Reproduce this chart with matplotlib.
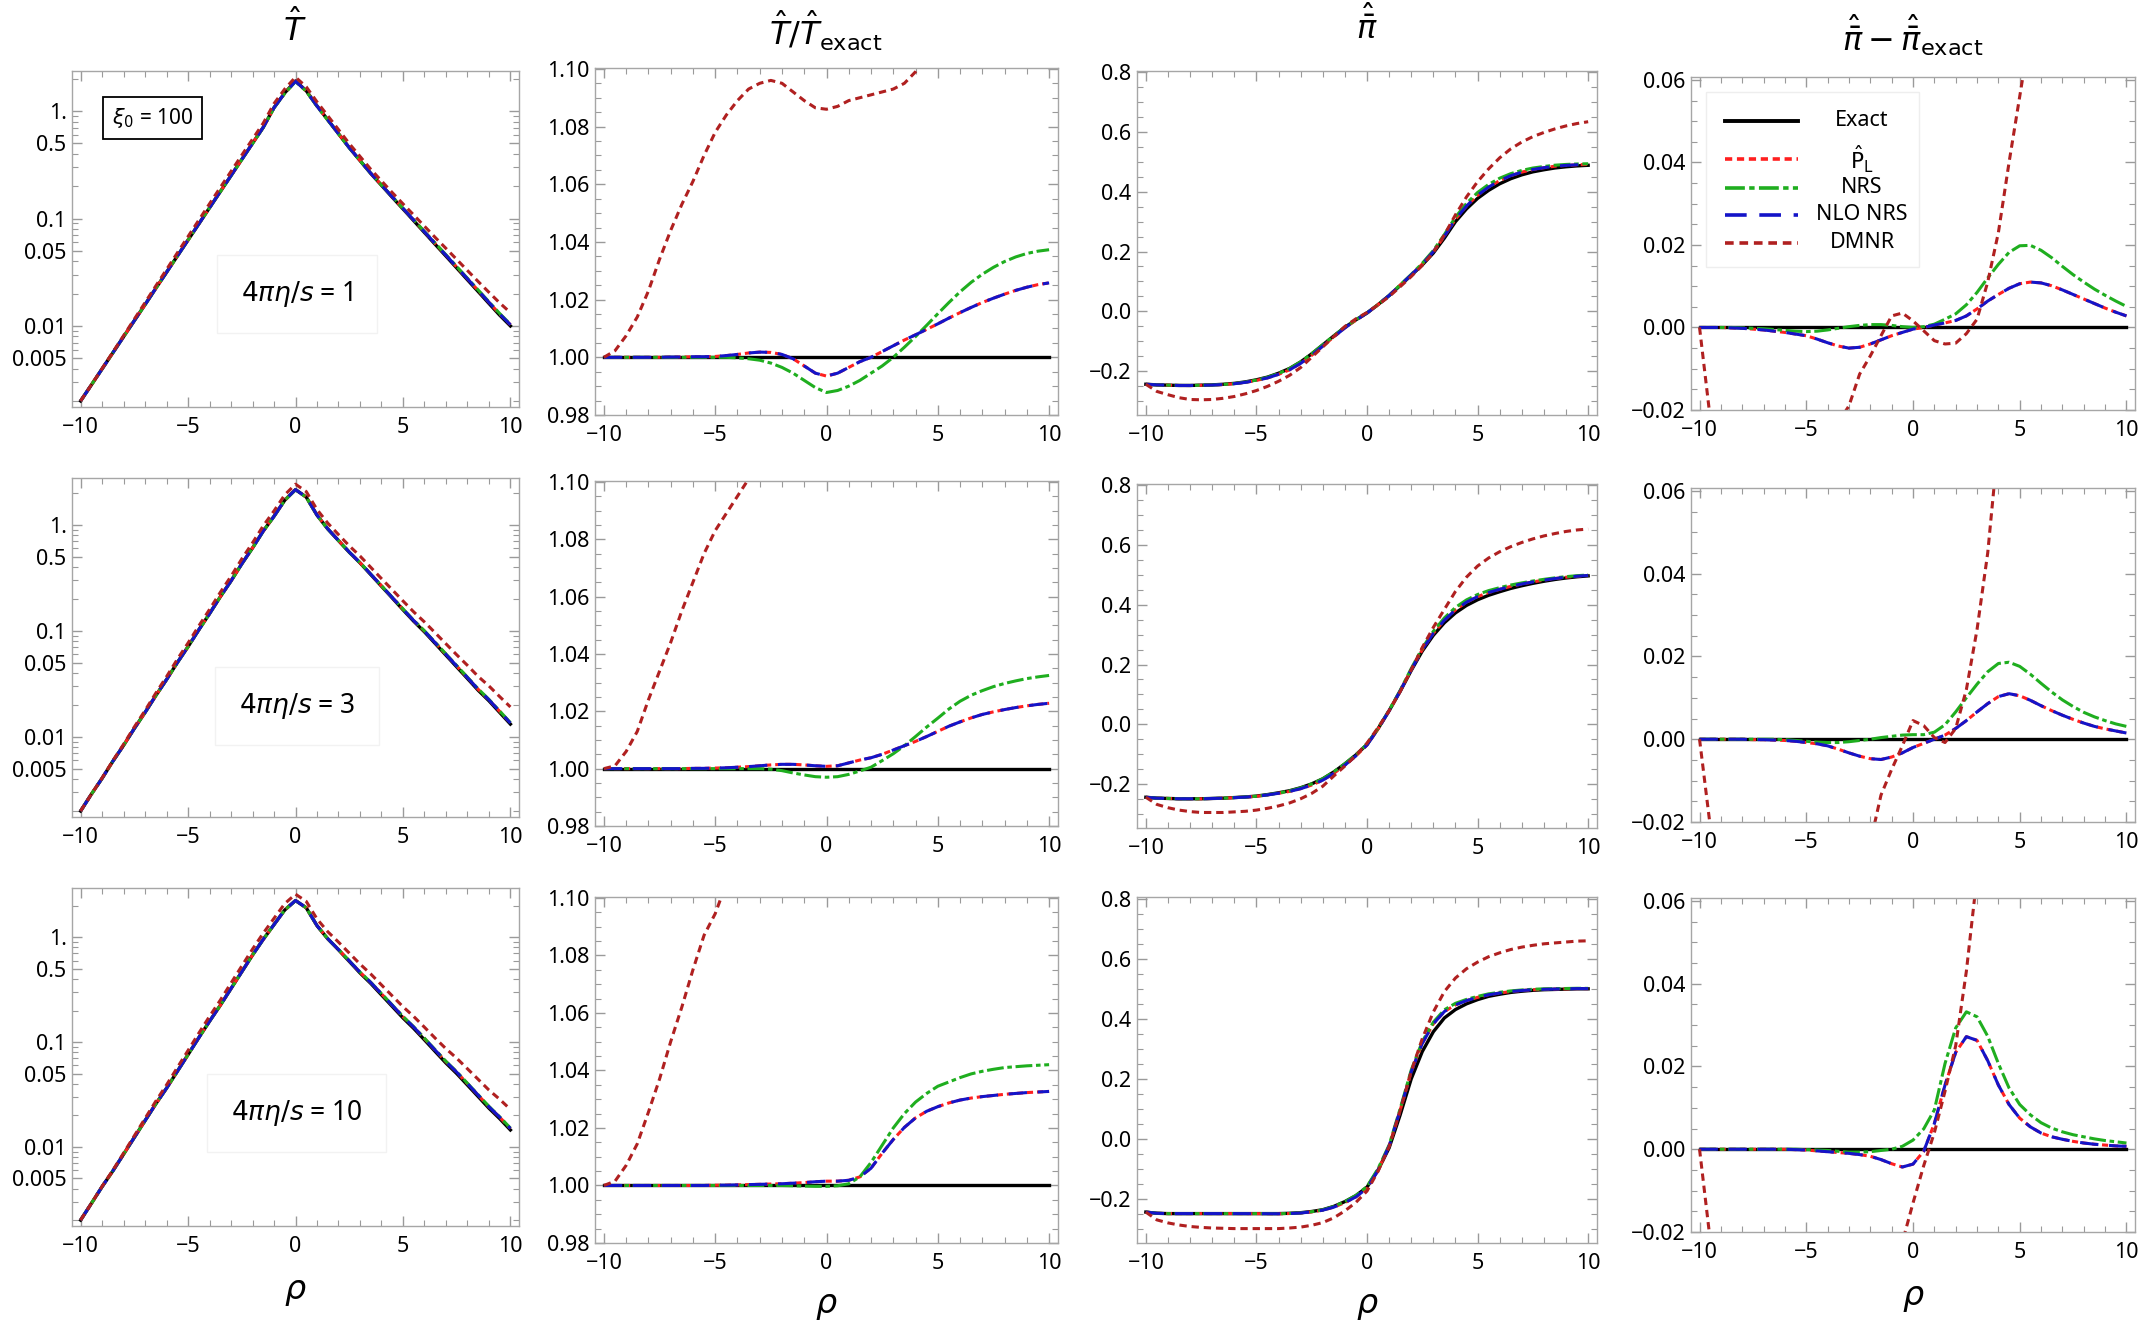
#!/usr/bin/env python3
# -*- coding: utf-8 -*-
import numpy as np
import matplotlib
matplotlib.use("Agg")
import matplotlib.pyplot as plt
from matplotlib.ticker import (FixedLocator, FixedFormatter, MultipleLocator,
                               FuncFormatter, LogLocator, NullFormatter)
from matplotlib.patches import Rectangle

plt.rcParams['font.family'] = ['Noto Sans', 'DejaVu Sans']
plt.rcParams['mathtext.fontset'] = 'dejavusans'

# rho grid, step 0.5 from -10 to 10 (41 points)
rho = np.arange(-10, 10.25, 0.5)

# ---- T_hat exact, one list per 4 pi eta/s = 1, 3, 10
T_exact_1 = [0.00200, 0.00282, 0.00398, 0.00562, 0.00794, 0.0112, 0.0158, 0.0224, 0.0316, 0.0447,
             0.0631, 0.0891, 0.126, 0.178, 0.251, 0.355, 0.501, 0.708, 1.08, 1.48, 1.91,
             1.55, 1.12, 0.832, 0.617, 0.457, 0.347, 0.263, 0.204, 0.158, 0.123,
             0.0955, 0.0741, 0.0575, 0.0447, 0.0347, 0.0269, 0.0209, 0.0162, 0.0126, 0.0100]
T_exact_3 = [0.00200, 0.00288, 0.00407, 0.00589, 0.00832, 0.0120, 0.0170, 0.0245, 0.0347, 0.0501,
             0.0708, 0.102, 0.145, 0.209, 0.295, 0.427, 0.603, 0.871, 1.20, 1.70, 2.14,
             1.82, 1.23, 0.912, 0.708, 0.550, 0.437, 0.339, 0.263, 0.204, 0.158,
             0.123, 0.0977, 0.0759, 0.0589, 0.0457, 0.0355, 0.0275, 0.0219, 0.0170, 0.0132]
T_exact_10 = [0.00200, 0.00288, 0.00417, 0.00589, 0.00851, 0.0123, 0.0178, 0.0257, 0.0363, 0.0525,
              0.0759, 0.110, 0.158, 0.224, 0.324, 0.468, 0.676, 0.955, 1.32, 1.82, 2.24,
              1.91, 1.29, 0.966, 0.759, 0.589, 0.457, 0.363, 0.282, 0.219, 0.170,
              0.135, 0.105, 0.0813, 0.0631, 0.0501, 0.0389, 0.0302, 0.0234, 0.0186, 0.0145]

# ---- T_hat / T_hat exact  (P_L coincides with NLO NRS)
ratio_nlo_1 = [1.0, 1.0, 1.0, 1.0, 1.0, 1.0, 1.0001, 1.0001, 1.0002, 1.0002, 1.0003, 1.0006, 1.001,
               1.0015, 1.0018, 1.0017, 1.001, 0.9995, 0.997, 0.9945, 0.9935, 0.9945, 0.9965, 0.9985,
               1.0, 1.002, 1.004, 1.006, 1.0078, 1.0097, 1.0116, 1.0136, 1.0155, 1.0173, 1.019,
               1.0205, 1.0219, 1.0232, 1.0243, 1.0252, 1.0258]
ratio_nrs_1 = [1.0, 1.0, 1.0, 1.0, 1.0, 1.0, 1.0, 1.0, 1.0, 1.0, 1.0, 1.0, 0.9998, 0.9995, 0.999,
               0.998, 0.9965, 0.9945, 0.992, 0.9895, 0.9878, 0.9885, 0.990, 0.992, 0.9945, 0.997,
               1.0, 1.0035, 1.0072, 1.0111, 1.0151, 1.019, 1.0227, 1.026, 1.0288, 1.0312, 1.0332,
               1.0348, 1.036, 1.0368, 1.0373]
ratio_dmnr_1 = [1.0, 1.0023, 1.0075, 1.014, 1.023, 1.034, 1.044, 1.053, 1.061, 1.070, 1.078, 1.084,
                1.089, 1.093, 1.095, 1.096, 1.095, 1.092, 1.089, 1.0865, 1.086, 1.087, 1.089, 1.090,
                1.091, 1.092, 1.093, 1.095, 1.099, 1.105, 1.115, 1.13, 1.145, 1.16, 1.18, 1.20,
                1.22, 1.24, 1.27, 1.30, 1.33]

ratio_nlo_3 = [1.0, 1.0, 1.0, 1.0, 1.0, 1.0, 1.0, 1.0, 1.0001, 1.0001, 1.0002, 1.0003, 1.0005, 1.0007,
               1.001, 1.0013, 1.0015, 1.0015, 1.0013, 1.001, 1.0008, 1.001, 1.002, 1.003, 1.0038,
               1.005, 1.0065, 1.008, 1.0095, 1.0112, 1.013, 1.0148, 1.0163, 1.0177, 1.0189, 1.0198,
               1.0206, 1.0213, 1.0219, 1.0224, 1.0228]
ratio_nrs_3 = [1.0, 1.0, 1.0, 1.0, 1.0, 1.0, 1.0, 1.0, 1.0, 1.0, 1.0, 1.0, 1.0, 1.0, 1.0,
               0.9998, 0.9993, 0.9985, 0.9978, 0.9972, 0.997, 0.9972, 0.998, 0.9992, 1.0005, 1.0028,
               1.0052, 1.008, 1.0112, 1.0145, 1.0176, 1.0208, 1.0235, 1.0256, 1.0272, 1.0286,
               1.0297, 1.0306, 1.0314, 1.032, 1.0325]
ratio_dmnr_3 = [1.0, 1.001, 1.006, 1.013, 1.024, 1.034, 1.044, 1.055, 1.065, 1.075, 1.083, 1.089,
                1.095, 1.101, 1.107, 1.113, 1.118, 1.121, 1.123, 1.124, 1.125, 1.127, 1.13, 1.135,
                1.14, 1.15, 1.16, 1.17, 1.18, 1.195, 1.21, 1.225, 1.24, 1.26, 1.28, 1.30, 1.33,
                1.35, 1.38, 1.41, 1.45]

ratio_nlo_10 = [1.0, 1.0, 1.0, 1.0, 1.0, 1.0, 1.0, 1.0, 1.0, 1.0, 1.0001, 1.0001, 1.0002, 1.0003,
                1.0004, 1.0005, 1.0006, 1.0008, 1.001, 1.0013, 1.0015, 1.0015, 1.0018, 1.003, 1.006,
                1.0112, 1.016, 1.0202, 1.0235, 1.0258, 1.0274, 1.0287, 1.0297, 1.0304, 1.0309,
                1.0313, 1.0317, 1.032, 1.0323, 1.0325, 1.0327]
ratio_nrs_10 = [1.0, 1.0, 1.0, 1.0, 1.0, 1.0, 1.0, 1.0, 1.0, 1.0, 1.0, 1.0, 1.0, 1.0, 1.0, 1.0, 1.0,
                0.9999, 0.9998, 0.9997, 0.9997, 0.9999, 1.0006, 1.003, 1.008, 1.014, 1.020, 1.025,
                1.029, 1.032, 1.0345, 1.036, 1.0375, 1.0388, 1.0397, 1.0404, 1.041, 1.0413,
                1.0416, 1.0418, 1.042]
ratio_dmnr_10 = [1.0, 1.0015, 1.007, 1.0145, 1.0255, 1.037, 1.050, 1.062, 1.075, 1.087, 1.0945,
                 1.105, 1.113, 1.12, 1.128, 1.135, 1.14, 1.145, 1.148, 1.15, 1.15, 1.152, 1.16,
                 1.17, 1.185, 1.2, 1.215, 1.23, 1.245, 1.26, 1.28, 1.30, 1.32, 1.34, 1.37, 1.40,
                 1.43, 1.46, 1.49, 1.53, 1.57]

# ---- pi_bar_hat exact
pi_exact_1 = [-0.245, -0.247, -0.248, -0.249, -0.249, -0.248, -0.247, -0.245, -0.242, -0.237,
              -0.230, -0.221, -0.208, -0.192, -0.170, -0.143, -0.113, -0.083, -0.054, -0.029,
              -0.006, 0.022, 0.052, 0.086, 0.120, 0.155, 0.195, 0.245, 0.300, 0.343, 0.378,
              0.405, 0.427, 0.444, 0.457, 0.467, 0.474, 0.480, 0.484, 0.487, 0.489]
pi_exact_3 = [-0.245, -0.248, -0.249, -0.250, -0.250, -0.250, -0.249, -0.248, -0.246, -0.244,
              -0.241, -0.236, -0.230, -0.223, -0.213, -0.200, -0.183, -0.160, -0.133, -0.103,
              -0.068, -0.015, 0.045, 0.110, 0.180, 0.245, 0.298, 0.340, 0.373, 0.398, 0.417,
              0.432, 0.444, 0.455, 0.464, 0.472, 0.479, 0.485, 0.490, 0.494, 0.497]
pi_exact_10 = [-0.245, -0.249, -0.250, -0.250, -0.250, -0.250, -0.250, -0.250, -0.250, -0.250,
               -0.250, -0.250, -0.250, -0.249, -0.247, -0.243, -0.237, -0.226, -0.210, -0.190,
               -0.162, -0.105, -0.031, 0.079, 0.199, 0.290, 0.356, 0.402, 0.430, 0.449, 0.463,
               0.474, 0.481, 0.487, 0.491, 0.494, 0.496, 0.497, 0.498, 0.499, 0.499]

# ---- pi_bar_hat - pi_bar_hat exact
dpi_nlo_1 = [0.0, 0.0, 0.0, -0.0001, -0.0002, -0.0004, -0.0006, -0.0009, -0.0012, -0.0016, -0.002,
             -0.0028, -0.0037, -0.0045, -0.005, -0.0048, -0.004, -0.003, -0.002, -0.0012, -0.0004,
             0.0, 0.0006, 0.0011, 0.0017, 0.0028, 0.0045, 0.0064, 0.008, 0.0095, 0.0106, 0.011,
             0.0108, 0.0101, 0.0091, 0.008, 0.0069, 0.0058, 0.0047, 0.0037, 0.0028]
dpi_nrs_1 = [0.0, 0.0, 0.0, 0.0, -0.0001, -0.0002, -0.0003, -0.0005, -0.0007, -0.0009, -0.001,
             -0.0009, -0.0006, -0.0002, 0.0002, 0.0005, 0.0007, 0.0007, 0.0005, 0.0002, 0.0,
             0.0002, 0.0008, 0.002, 0.0033, 0.0055, 0.0085, 0.012, 0.0153, 0.0182, 0.0198, 0.0199,
             0.0187, 0.0169, 0.0148, 0.0128, 0.011, 0.0093, 0.0078, 0.0064, 0.0051]
dpi_dmnr_1 = [0.0, -0.022, -0.032, -0.041, -0.047, -0.049, -0.049, -0.047, -0.044, -0.040, -0.036,
              -0.031, -0.027, -0.023, -0.019, -0.0113, -0.0069, -0.002, 0.0028, 0.0035, 0.0016,
              -0.0008, -0.0032, -0.004, -0.0038, -0.0015, 0.002, 0.011, 0.023, 0.040, 0.056,
              0.072, 0.087, 0.100, 0.110, 0.118, 0.125, 0.131, 0.137, 0.142, 0.146]

dpi_nlo_3 = [0.0, 0.0, 0.0, 0.0, 0.0, -0.0001, -0.0001, -0.0002, -0.0003, -0.0005, -0.0008, -0.0011,
             -0.0016, -0.0024, -0.0033, -0.0041, -0.0047, -0.0049, -0.0043, -0.0033, -0.002, -0.001,
             0.0, 0.001, 0.0026, 0.0045, 0.0066, 0.0086, 0.0103, 0.011, 0.0105, 0.0094, 0.0081,
             0.0069, 0.0058, 0.0048, 0.0039, 0.0031, 0.0025, 0.002, 0.0015]
dpi_nrs_3 = [0.0, 0.0, 0.0, 0.0, 0.0, 0.0, 0.0, 0.0, -0.0001, -0.0003, -0.0005, -0.0007, -0.0008,
             -0.0008, -0.0006, -0.0003, 0.0, 0.0004, 0.0007, 0.001, 0.0011, 0.0011, 0.0017, 0.0035,
             0.0066, 0.010, 0.0133, 0.0163, 0.0183, 0.0186, 0.0176, 0.0157, 0.0135, 0.0114, 0.0095,
             0.0079, 0.0065, 0.0054, 0.0045, 0.0037, 0.0031]
dpi_dmnr_3 = [0.0, -0.021, -0.031, -0.038, -0.043, -0.046, -0.047, -0.048, -0.048, -0.048, -0.047,
              -0.046, -0.044, -0.041, -0.037, -0.032, -0.025, -0.0135, -0.0073, -0.0016, 0.0045,
              0.0033, 0.0004, -0.0008, 0.0026, 0.012, 0.0265, 0.045, 0.072, 0.095, 0.113, 0.125,
              0.134, 0.140, 0.145, 0.149, 0.152, 0.154, 0.156, 0.157, 0.157]

dpi_nlo_10 = [0.0, 0.0, 0.0, 0.0, 0.0, 0.0, 0.0, 0.0, 0.0, -0.0001, -0.0002, -0.0004, -0.0006,
              -0.0008, -0.001, -0.0013, -0.0017, -0.0025, -0.0035, -0.0043, -0.0036, -0.0005,
              0.0062, 0.0155, 0.0234, 0.0272, 0.0263, 0.0214, 0.0155, 0.0108, 0.0075, 0.0054,
              0.0039, 0.003, 0.0024, 0.0019, 0.0015, 0.0012, 0.001, 0.0008, 0.0007]
dpi_nrs_10 = [0.0, 0.0, 0.0, 0.0, 0.0, 0.0, 0.0, 0.0, 0.0, 0.0, -0.0001, -0.0002, -0.0003, -0.0005,
              -0.0007, -0.0007, -0.0006, -0.0003, 0.0, 0.0007, 0.0022, 0.0049, 0.0095, 0.0207,
              0.0293, 0.0332, 0.032, 0.0273, 0.0207, 0.0148, 0.0108, 0.0083, 0.0064, 0.0051,
              0.0042, 0.0035, 0.003, 0.0025, 0.0021, 0.0018, 0.0015]
dpi_dmnr_10 = [0.0, -0.022, -0.031, -0.038, -0.043, -0.046, -0.048, -0.049, -0.050, -0.050, -0.050,
               -0.050, -0.050, -0.049, -0.048, -0.046, -0.043, -0.038, -0.031, -0.0225, -0.013,
               -0.004, 0.004, 0.014, 0.025, 0.043, 0.066, 0.088, 0.105, 0.117, 0.125, 0.132,
               0.138, 0.143, 0.147, 0.150, 0.153, 0.155, 0.157, 0.159, 0.160]

viscosities = ['1', '3', '10']
T_exact = [T_exact_1, T_exact_3, T_exact_10]
ratio_nlo = [ratio_nlo_1, ratio_nlo_3, ratio_nlo_10]
ratio_nrs = [ratio_nrs_1, ratio_nrs_3, ratio_nrs_10]
ratio_dmnr = [ratio_dmnr_1, ratio_dmnr_3, ratio_dmnr_10]
pi_exact = [pi_exact_1, pi_exact_3, pi_exact_10]
dpi_nlo = [dpi_nlo_1, dpi_nlo_3, dpi_nlo_10]
dpi_nrs = [dpi_nrs_1, dpi_nrs_3, dpi_nrs_10]
dpi_dmnr = [dpi_dmnr_1, dpi_dmnr_3, dpi_dmnr_10]

styles = {
    'Exact': dict(color='black', lw=2.4, ls='-'),
    'PL': dict(color='#ff1f1f', lw=2.2, ls=(0, (2.0, 1.3))),
    'NRS': dict(color='#1fae1f', lw=2.2, ls=(0, (5.5, 1.2, 1.5, 1.2))),
    'NLO': dict(color='#1414c8', lw=2.2, ls=(0, (6.0, 3.5))),
    'DMNR': dict(color='#b02020', lw=2.2, ls=(0, (2.4, 1.6))),
}
order = ['Exact', 'PL', 'NRS', 'NLO', 'DMNR']
labels = {'Exact': 'Exact', 'PL': r'$\hat{\mathrm{P}}_\mathrm{L}$', 'NRS': 'NRS',
          'NLO': 'NLO NRS', 'DMNR': 'DMNR'}

W, H = 2142, 1328
fig = plt.figure(figsize=(W / 100, H / 100), dpi=100)

col_x = [(72, 519), (595, 1058), (1137, 1597), (1691, 2135)]
row_y = [[(71, 407), (478, 817), (888, 1226)],
         [(68, 415), (481, 826), (897, 1243)],
         [(71, 415), (484, 828), (897, 1243)],
         [(77, 410), (488, 822), (898, 1232)]]
T_top = [0.374, 0.44, 0.47]


def minus_fmt(f):
    def g(v, p):
        if abs(v) < 1e-12:
            v = 0.0
        return (f % v).replace('-', '\u2212')
    return FuncFormatter(g)


def style_axes(ax):
    for s in ax.spines.values():
        s.set_color('#a6a6a6')
        s.set_linewidth(1.0)
    ax.tick_params(which='both', direction='in', top=True, right=True,
                   color='#9a9a9a', labelsize=15.5)
    ax.tick_params(which='major', length=7, width=1.0)
    ax.tick_params(which='minor', length=4, width=0.8)
    ax.tick_params(axis='x', pad=7)
    ax.tick_params(axis='y', pad=4)
    ax.set_xlim(-10.4, 10.4)
    ax.xaxis.set_major_locator(FixedLocator([-10, -5, 0, 5, 10]))
    ax.xaxis.set_minor_locator(MultipleLocator(1))
    ax.xaxis.set_major_formatter(minus_fmt('%d'))


for c in range(4):
    for r in range(3):
        x0, x1 = col_x[c]
        y0, y1 = row_y[c][r]
        ax = fig.add_axes([x0 / W, 1 - y1 / H, (x1 - x0) / W, (y1 - y0) / H])
        style_axes(ax)
        Te = np.array(T_exact[r])
        pe = np.array(pi_exact[r])
        rn = np.array(ratio_nlo[r])
        rs = np.array(ratio_nrs[r])
        rd = np.array(ratio_dmnr[r])
        dn = np.array(dpi_nlo[r])
        ds = np.array(dpi_nrs[r])
        dd = np.array(dpi_dmnr[r])
        if c == 0:
            ys = {'Exact': Te, 'PL': Te * rn, 'NRS': Te * rs, 'NLO': Te * rn, 'DMNR': Te * rd}
        elif c == 1:
            ys = {'Exact': np.ones_like(Te), 'PL': rn, 'NRS': rs, 'NLO': rn, 'DMNR': rd}
        elif c == 2:
            ys = {'Exact': pe, 'PL': pe + dn, 'NRS': pe + ds, 'NLO': pe + dn, 'DMNR': pe + dd}
        else:
            ys = {'Exact': np.zeros_like(pe), 'PL': dn, 'NRS': ds, 'NLO': dn, 'DMNR': dd}
        for k in order:
            st = styles[k]
            ax.plot(rho, ys[k], color=st['color'], lw=st['lw'], ls=st['ls'])

        if c == 0:
            ax.set_yscale('log')
            ax.set_ylim(10 ** -2.755, 10 ** T_top[r])
            ax.yaxis.set_major_locator(FixedLocator([0.005, 0.01, 0.05, 0.1, 0.5, 1.0]))
            ax.yaxis.set_major_formatter(FixedFormatter(['0.005', '0.01', '0.05', '0.1', '0.5', '1.']))
            ax.yaxis.set_minor_locator(LogLocator(base=10, subs=np.arange(2, 10)))
            ax.yaxis.set_minor_formatter(NullFormatter())
            ax.text(0.503, [0.336, 0.327, 0.334][r], r'$4\pi\eta/s$ = ' + viscosities[r],
                    transform=ax.transAxes, ha='center', va='center', fontsize=19,
                    bbox=dict(boxstyle='square,pad=0.9', fc='white', ec='#f2f2f2', lw=1))
            if r == 0:
                ax.text(0.18, 0.86, r'$\xi_0$ = 100', transform=ax.transAxes,
                        ha='center', va='center', fontsize=15,
                        bbox=dict(boxstyle='square,pad=0.45', fc='white', ec='black', lw=1.3))
        elif c == 1:
            ax.set_ylim(0.98, 1.1003)
            ax.yaxis.set_major_locator(MultipleLocator(0.02))
            ax.yaxis.set_minor_locator(MultipleLocator(0.005))
            ax.yaxis.set_major_formatter(minus_fmt('%.2f'))
        elif c == 2:
            ax.set_ylim(-0.348, 0.805)
            ax.yaxis.set_major_locator(MultipleLocator(0.2))
            ax.yaxis.set_minor_locator(MultipleLocator(0.05))
            ax.yaxis.set_major_formatter(minus_fmt('%.1f'))
        else:
            ax.set_ylim(-0.02, 0.0607)
            ax.yaxis.set_major_locator(MultipleLocator(0.02))
            ax.yaxis.set_minor_locator(MultipleLocator(0.005))
            ax.yaxis.set_major_formatter(minus_fmt('%.2f'))
            if r == 0:
                # legend, drawn by hand so the labels are centred like the original
                ax.add_patch(Rectangle((0.034, 0.43), 0.48, 0.525, transform=ax.transAxes,
                                       fc='white', ec='#eeeeee', lw=1, zorder=3))
                ly = [0.868, 0.754, 0.667, 0.586, 0.502]
                for k, yy in zip(order, ly):
                    st = styles[k]
                    ax.plot([0.077, 0.241], [yy, yy], transform=ax.transAxes, color=st['color'],
                            lw=st['lw'] + 0.4, ls=st['ls'], zorder=4)
                    ax.text(0.385, yy, labels[k], transform=ax.transAxes, ha='center',
                            va='center', fontsize=15.5, zorder=4)

# column titles
fig.text(295 / W, 1 - 30 / H, r'$\hat{T}$', ha='center', va='center', fontsize=23)
fig.text(826 / W, 1 - 31 / H, r'$\hat{T}/\hat{T}_{\mathrm{exact}}$', ha='center', va='center', fontsize=23)
fig.text(1367 / W, 1 - 27 / H, r'$\hat{\bar{\pi}}$', ha='center', va='center', fontsize=23)
fig.text(1913 / W, 1 - 36 / H, r'$\hat{\bar{\pi}} - \hat{\bar{\pi}}_{\mathrm{exact}}$',
         ha='center', va='center', fontsize=23)

# rho labels under the bottom row
for xc, yc in [(295, 1291), (826, 1305), (1367, 1305), (1913, 1298)]:
    fig.text(xc / W, 1 - yc / H, r'$\rho$', ha='center', va='center', fontsize=24)

fig.savefig('out.png', dpi=100)
